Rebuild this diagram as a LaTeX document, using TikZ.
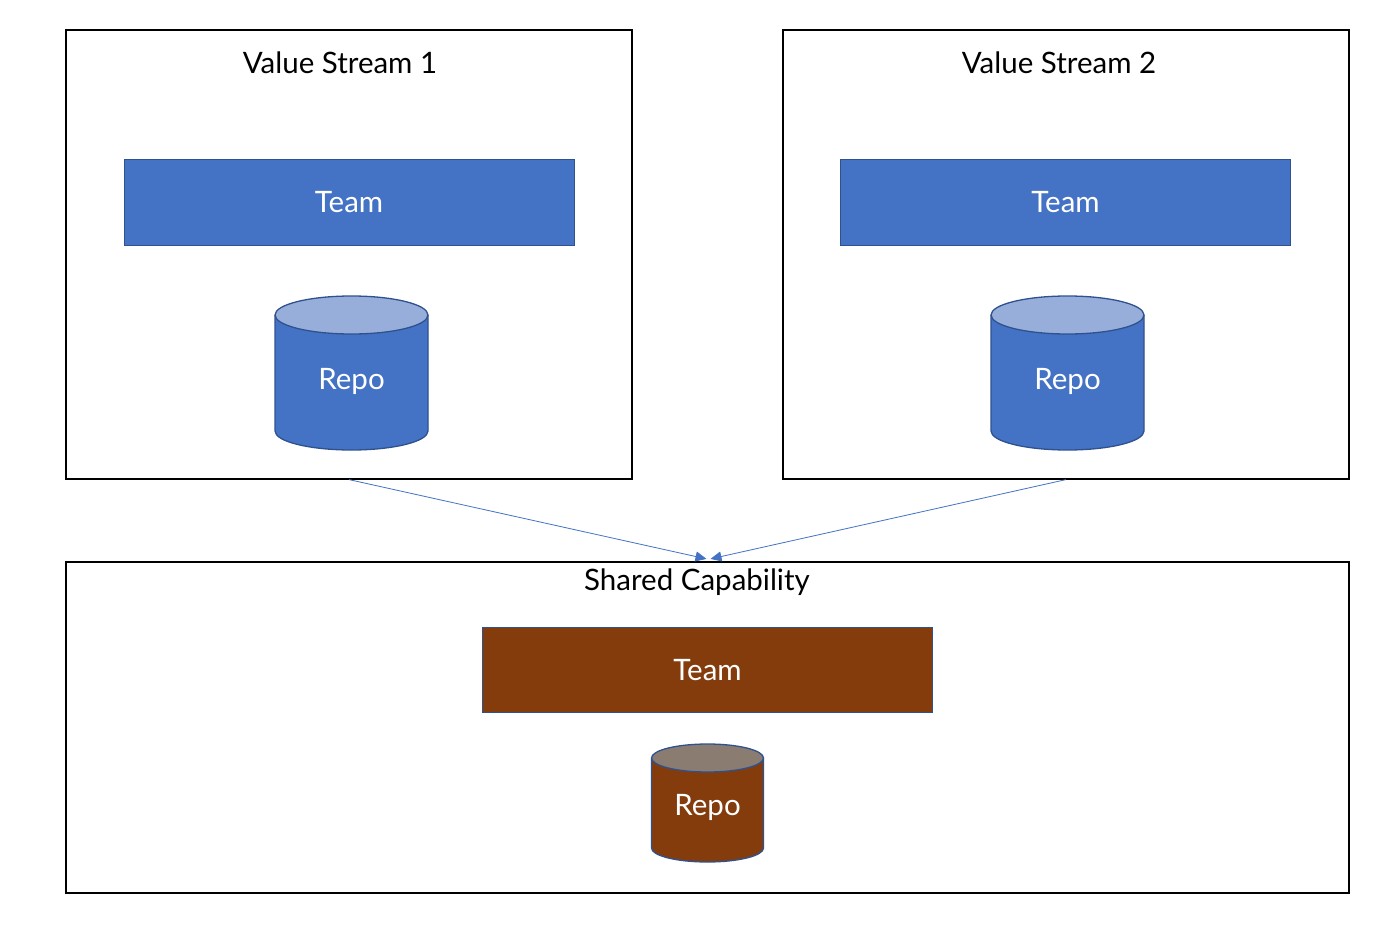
\documentclass[tikz,border=0pt]{standalone}
\usepackage{fontspec}
\setmainfont{Lato}
\usetikzlibrary{arrows.meta}
\definecolor{msblue}{HTML}{4472C4}
\definecolor{msdark}{HTML}{2F528F}
\definecolor{mslight}{HTML}{97AEDA}
\definecolor{msbrown}{HTML}{843C0C}
\definecolor{msbrowntop}{HTML}{8B7C71}
\tikzset{
  frame/.style={draw=black, line width=1.2pt, fill=white, inner sep=0pt},
  title/.style={font=\fontsize{29.5}{34}\selectfont, text=black, inner sep=0pt},
  teambox/.style={draw=msdark, line width=1pt, inner sep=0pt, minimum width=450pt, minimum height=85pt, text=white, font=\fontsize{29.5}{34}\selectfont},
  label/.style={text=white, font=\fontsize{29.5}{34}\selectfont, inner sep=0pt},
  link/.style={draw=msblue, line width=0.8pt, -{Triangle[length=11pt,width=10pt]}},
}
% #1 cx, #2 top centre y, #3 bottom centre y, #4 rx, #5 ry, #6 body, #7 top
\newcommand\repocyl[7]{%
  \fill[#6] (#1-#4,#2) -- (#1-#4,#3) arc[start angle=180,end angle=360,x radius=#4,y radius=-#5] -- (#1+#4,#2) -- cycle;
  \draw[msdark, line width=1.3pt] (#1-#4,#2) -- (#1-#4,#3) arc[start angle=180,end angle=360,x radius=#4,y radius=-#5] -- (#1+#4,#2);
  \draw[msdark, line width=1.3pt, fill=#7] (#1,#2) ellipse[x radius=#4, y radius=#5];
}
\begin{document}
\begin{tikzpicture}[x=1pt,y=-1pt]
\useasboundingbox[fill=white] (0,0) rectangle (1400,928);
% frames
\node[frame, minimum width=566pt, minimum height=449pt] (vs1) at (349,254.5) {};
\node[frame, minimum width=566pt, minimum height=449pt] (vs2) at (1066,254.5) {};
\node[frame, minimum width=1283pt, minimum height=331pt] (shared) at (707.5,727.5) {};
% titles
\node[title] (t1) at (340,63) {Value Stream 1};
\node[title] (t2) at (1059,63) {Value Stream 2};
\node[title] (t3) at (697,582) {Shared Capability};
% teams
\node[teambox, fill=msblue] (team1) at (349,202.5) {Team};
\node[teambox, fill=msblue] (team2) at (1065.5,202.5) {Team};
\node[teambox, fill=msbrown] (team3) at (707.5,670) {Team};
% repos
\repocyl{351.5}{315}{431}{76.5}{19}{msblue}{mslight}
\repocyl{1067.5}{315}{431}{76.5}{19}{msblue}{mslight}
\repocyl{707.5}{758}{848}{56}{14}{msbrown}{msbrowntop}
\node[label] (repo1) at (351.5,381) {Repo};
\node[label] (repo2) at (1067.5,381) {Repo};
\node[label] (repo3) at (707.5,807) {Repo};
% links
\coordinate (in1) at ([xshift=-1pt,yshift=2.5pt]shared.north);
\coordinate (in2) at ([xshift=3pt,yshift=2.5pt]shared.north);
\draw[link] (vs1.south) -- (in1);
\draw[link] (vs2.south) -- (in2);
\end{tikzpicture}
\end{document}
